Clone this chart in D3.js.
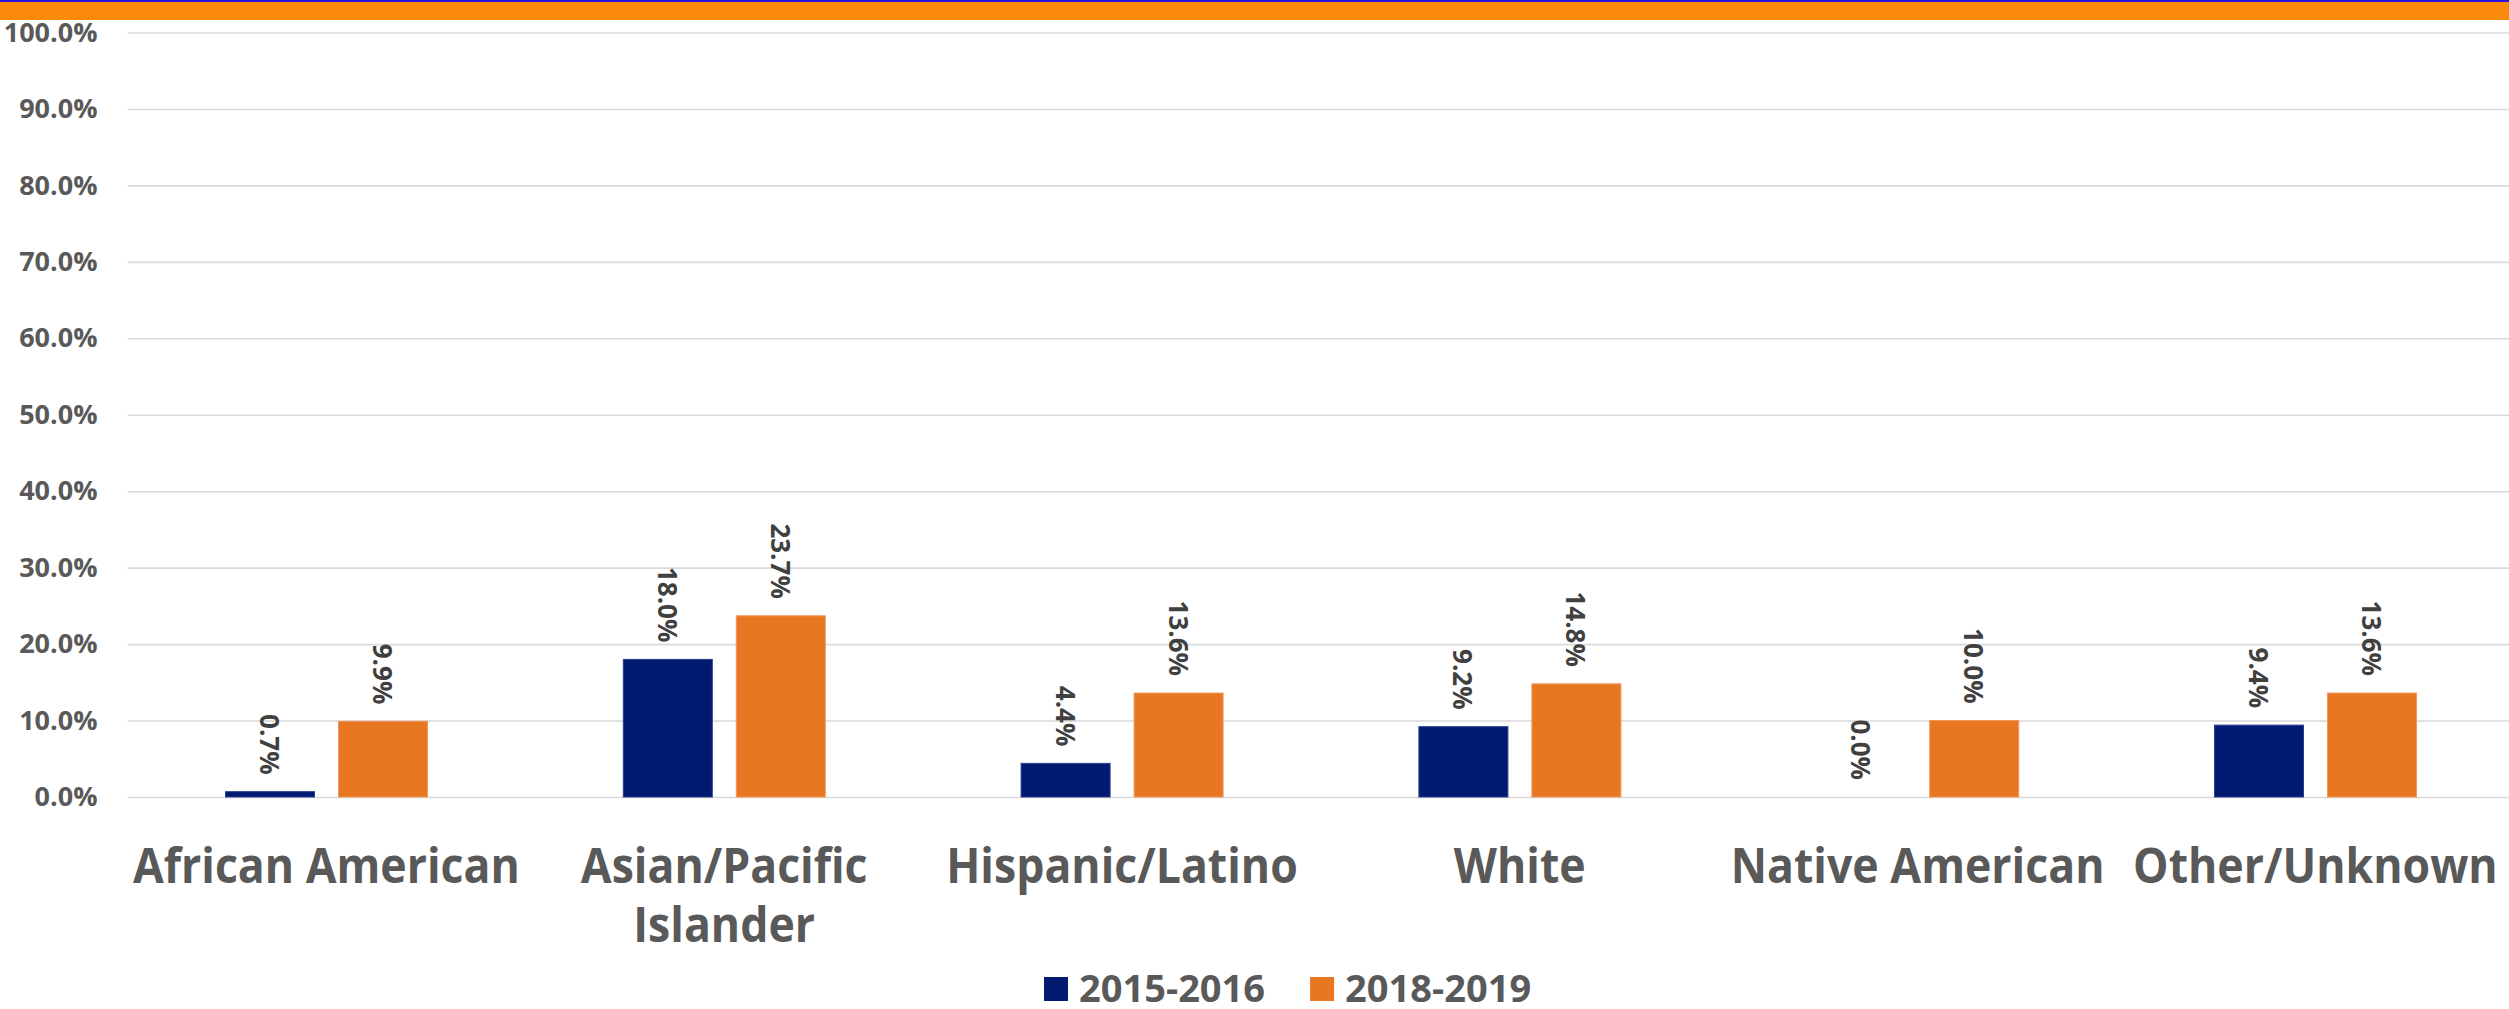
<!DOCTYPE html>
<html><head><meta charset="utf-8">
<script src="https://cdn.jsdelivr.net/npm/d3@7"></script>
<style>
html,body{margin:0;padding:0;background:#fff;overflow:hidden;}
svg{display:block;}
text{font-family:"Open Sans",Lato,"DejaVu Sans",sans-serif;font-weight:700;}
</style></head><body>
<svg id="chart" width="2509" height="1009"></svg>
<script>
// ---- data ----
const categories = ["African American", "Asian/Pacific Islander", "Hispanic/Latino", "White", "Native American", "Other/Unknown"];
const seriesNames = ["2015-2016", "2018-2019"];
const values2015 = [0.007, 0.180, 0.044, 0.092, 0.000, 0.094];
const values2018 = [0.099, 0.237, 0.136, 0.148, 0.100, 0.136];
const yTickValues = [0, 0.1, 0.2, 0.3, 0.4, 0.5, 0.6, 0.7, 0.8, 0.9, 1.0];
const seriesColors = ["#001A70", "#E87722"];

// ---- layout ----
const W = 2509, H = 1009;
const plotLeft = 127.5, plotRight = 2514.3, plotTop = 32.5, plotBottom = 797;
const svg = d3.select("#chart");

svg.append("rect").attr("x", 0).attr("y", 0).attr("width", W).attr("height", 20).attr("fill", "#FB8A0A");
svg.append("rect").attr("x", 0).attr("y", 0).attr("width", W).attr("height", 2).attr("fill", "#2A12DC");

const x0 = d3.scaleBand().domain(categories).range([plotLeft, plotRight]);
const x1 = d3.scaleBand().domain(seriesNames).range([98, 300]).paddingInner(24 / 113);
const y = d3.scaleLinear().domain([0, 1]).range([plotBottom, plotTop]);

// axis + gridlines
const yAxis = d3.axisLeft(y).tickValues(yTickValues).tickFormat(d3.format(".1%"))
  .tickSize(-(W - plotLeft + 5)).tickPadding(30);
const ga = svg.append("g").attr("transform", `translate(${plotLeft},0)`).call(yAxis);
ga.select(".domain").remove();
ga.selectAll(".tick line").attr("stroke", "#D9D9D9").attr("stroke-width", 1.6);
ga.selectAll(".tick text").attr("fill", "#595959").attr("font-size", 27)
  .style("font-family", "'Open Sans', sans-serif").style("font-weight", 700);

// bars
const rows = categories.map((c, i) => ({ cat: c, vals: [
  { s: seriesNames[0], v: values2015[i], color: seriesColors[0] },
  { s: seriesNames[1], v: values2018[i], color: seriesColors[1] }
]}));

const groups = svg.append("g").selectAll("g").data(rows).join("g")
  .attr("transform", d => `translate(${x0(d.cat)},0)`);

groups.selectAll("rect").data(d => d.vals).join("rect")
  .attr("x", d => x1(d.s))
  .attr("y", d => y(d.v))
  .attr("width", x1.bandwidth())
  .attr("height", d => plotBottom - y(d.v))
  .attr("fill", d => d.color)
  .attr("stroke", d => d.s === seriesNames[0] ? "#2B3F8F" : "#F0965A")
  .attr("stroke-width", d => d.v > 0 ? 1 : 0);

const fmt = d3.format(".1%");
groups.selectAll("text.lbl").data(d => d.vals).join("text")
  .attr("class", "lbl")
  .attr("transform", d => `translate(${x1(d.s) + x1.bandwidth() / 2},${y(d.v) - 17}) rotate(90)`)
  .attr("text-anchor", "end")
  .attr("dominant-baseline", "central")
  .attr("font-size", 26)
  .attr("fill", "#404040")
  .text(d => fmt(d.v));

// category labels (condensed bold, wrapped)
const condense = 0.93;
const catFont = 48;
const maxW = x0.bandwidth();
const measurer = svg.append("text").attr("font-size", catFont).attr("visibility", "hidden");
function measure(t) { measurer.text(t); return measurer.node().getComputedTextLength() * condense; }
function wrap(t) {
  const words = t.split(" "); const lines = []; let cur = "";
  words.forEach(w => {
    const test = cur ? cur + " " + w : w;
    if (cur && measure(test) > maxW) { lines.push(cur); cur = w; } else cur = test;
  });
  if (cur) lines.push(cur);
  return lines;
}
const catG = svg.append("g");
categories.forEach(c => {
  const lines = wrap(c);
  const g = catG.append("g").attr("transform", `translate(${x0(c) + x0.bandwidth() / 2},883) scale(${condense},1)`);
  lines.forEach((ln, i) => {
    g.append("text").attr("x", 0).attr("y", i * 59).attr("text-anchor", "middle")
      .attr("font-size", catFont).attr("fill", "#595959").text(ln);
  });
});
measurer.remove();

// legend
const legend = svg.append("g");
let lx = 1044;
seriesNames.forEach((s, i) => {
  legend.append("rect").attr("x", lx).attr("y", 977).attr("width", 24).attr("height", 24).attr("fill", seriesColors[i]);
  const t = legend.append("text").attr("x", lx + 35).attr("y", 1002).attr("font-size", 38).attr("fill", "#595959").text(s);
  lx += 35 + t.node().getComputedTextLength() + 45;
});
</script>
</body></html>
